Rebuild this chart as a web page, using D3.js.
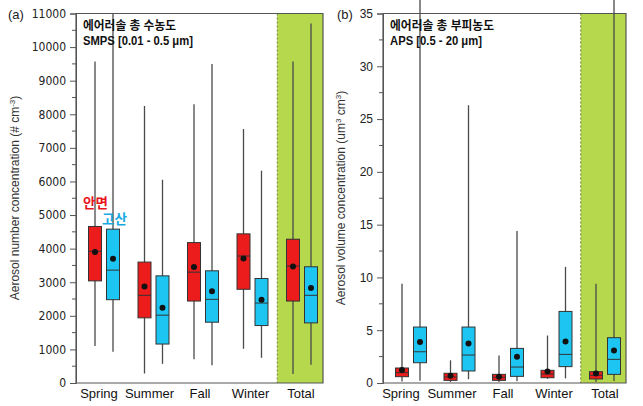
<!DOCTYPE html>
<html lang="ko">
<head>
<meta charset="utf-8">
<title>Aerosol box plots</title>
<script src="https://cdn.jsdelivr.net/npm/d3@7"></script>
<style>
  body { margin: 0; background: #fff; }
  svg text { font-family: "Liberation Sans", Arial, sans-serif; }
  .tick-lab { font-size: 12px; fill: #222; }
  .season { font-size: 13px; fill: #111; }
  .ytitle { font-size: 12px; fill: #333; }
  .ko { font-family: "Noto Sans CJK KR", sans-serif; font-weight: bold; }
</style>
</head>
<body>
<script>
var seasons = ["Spring", "Summer", "Fall", "Winter", "Total"];

// (a) number concentration, SMPS
var anA_min  = [1100, 280, 710, 1020, 270];
var anA_q1   = [3040, 1940, 2440, 2790, 2440];
var anA_med  = [3920, 2610, 3300, 3780, 3480];
var anA_q3   = [4660, 3600, 4180, 4440, 4280];
var anA_max  = [9570, 8250, 8300, 7560, 9570];
var anA_mean = [3900, 2870, 3450, 3710, 3470];

var goA_min  = [930, 570, 530, 750, 540];
var goA_q1   = [2480, 1160, 1810, 1710, 1790];
var goA_med  = [3360, 2020, 2490, 2380, 2610];
var goA_q3   = [4580, 3190, 3340, 3110, 3460];
var goA_max  = [11000, 6050, 9500, 6320, 10700];
var goA_mean = [3700, 2240, 2730, 2480, 2830];

// (b) volume concentration, APS
var anB_min  = [0.15, 0.1, 0.1, 0.4, 0.1];
var anB_q1   = [0.6, 0.25, 0.25, 0.5, 0.38];
var anB_med  = [0.98, 0.57, 0.54, 0.85, 0.73];
var anB_q3   = [1.42, 0.92, 0.82, 1.2, 1.07];
var anB_max  = [9.4, 2.15, 2.6, 4.5, 9.4];
var anB_mean = [1.23, 0.69, 0.6, 1.1, 0.91];

var goB_min  = [0.22, 0.35, 0.16, 0.44, 0.2];
var goB_q1   = [1.92, 1.14, 0.63, 1.55, 0.82];
var goB_med  = [2.96, 2.65, 1.51, 2.71, 2.24];
var goB_q3   = [5.3, 5.3, 3.28, 6.78, 4.29];
var goB_max  = [36.3, 26.3, 14.4, 11.0, 36.3];
var goB_mean = [3.88, 3.75, 2.49, 3.94, 3.09];

var ticksA = [0,1000,2000,3000,4000,5000,6000,7000,8000,9000,10000,11000];
var ticksB = [0,5,10,15,20,25,30,35];

var red = "#ec1c1c", blue = "#1dc6f2", green = "#b5d84c";

var svg = d3.select("body").append("svg")
  .attr("width", 643).attr("height", 406);

function pack(mn, q1, md, q3, mx, mean) {
  return seasons.map(function(s, i) {
    return {s: s, min: mn[i], q1: q1[i], med: md[i], q3: q3[i], max: mx[i], mean: mean[i]};
  });
}

function panel(o) {
  var y = d3.scaleLinear().domain([0, o.ymax]).range([383, 13.5]);
  var x = d3.scalePoint().domain(seasons).range(o.xr);
  var xl = d3.scalePoint().domain(seasons).range(o.lr);
  var g = svg.append("g");
  var sep = (x("Winter") + x("Total")) / 2;

  g.append("rect").attr("x", sep).attr("y", 13.5)
    .attr("width", o.right - sep).attr("height", 383 - 13.5).attr("fill", green);
  g.append("line").attr("x1", sep).attr("x2", sep).attr("y1", 13.5).attr("y2", 383)
    .attr("stroke", "#6d7d2c").attr("stroke-dasharray", "2,2");

  // frame
  g.append("path")
    .attr("d", "M" + o.left + ",13.5H" + o.right + "V383H" + o.left + "Z")
    .attr("fill", "none").attr("stroke", "#555").attr("stroke-width", 1.2);

  // axis with minor ticks
  var ax = d3.axisLeft(y).tickValues(o.ticks).tickSize(6).tickPadding(4)
    .tickFormat(d3.format("d"));
  var axg = g.append("g").attr("transform", "translate(" + o.left + ",0)").call(ax);
  axg.select(".domain").attr("stroke", "#555");
  axg.selectAll(".tick line").attr("stroke", "#555");
  axg.selectAll(".tick text").attr("class", "tick-lab").attr("font-family", null)
    .attr("font-size", null).style("font-family", o.tickFont);
  var minors = o.ticks.slice(0, -1).map(function(t) { return t + o.ticks[1] / 2; });
  g.selectAll(".minor").data(minors).enter().append("line")
    .attr("x1", o.left - 4).attr("x2", o.left)
    .attr("y1", function(d) { return y(d); }).attr("y2", function(d) { return y(d); })
    .attr("stroke", "#555");

  o.series.forEach(function(ser) {
    var sg = g.append("g");
    var data = ser.data;
    sg.selectAll(".wh").data(data).enter().append("line")
      .attr("x1", function(d) { return x(d.s) + ser.dx; })
      .attr("x2", function(d) { return x(d.s) + ser.dx; })
      .attr("y1", function(d) { return y(d.min); })
      .attr("y2", function(d) { return y(d.max); })
      .attr("stroke", "#4a4a4a").attr("stroke-width", 1.3);
    sg.selectAll(".bx").data(data).enter().append("rect")
      .attr("x", function(d) { return x(d.s) + ser.dx - 6.5; })
      .attr("width", 13)
      .attr("y", function(d) { return y(d.q3); })
      .attr("height", function(d) { return y(d.q1) - y(d.q3); })
      .attr("fill", ser.color).attr("stroke", "#333").attr("stroke-width", 1);
    sg.selectAll(".md").data(data).enter().append("line")
      .attr("x1", function(d) { return x(d.s) + ser.dx - 6.5; })
      .attr("x2", function(d) { return x(d.s) + ser.dx + 6.5; })
      .attr("y1", function(d) { return y(d.med); })
      .attr("y2", function(d) { return y(d.med); })
      .attr("stroke", "#333").attr("stroke-width", 1);
    sg.selectAll(".mn").data(data).enter().append("circle")
      .attr("cx", function(d) { return x(d.s) + ser.dx; })
      .attr("cy", function(d) { return y(d.mean); })
      .attr("r", 3).attr("fill", "#111");
  });

  g.selectAll(".season").data(seasons).enter().append("text")
    .attr("class", "season").attr("text-anchor", "middle")
    .attr("x", function(d) { return xl(d); }).attr("y", 398).text(function(d) { return d; });

  g.append("text").attr("x", o.tagX).attr("y", 19).attr("font-size", 13)
    .attr("fill", "#222").text(o.tag);

  var t = g.append("text").attr("class", "ytitle").attr("text-anchor", "middle")
    .attr("transform", "translate(" + o.ytX + ",198) rotate(-90)");
  t.append("tspan").text(o.ytitle);
  t.append("tspan").attr("dy", -4).attr("font-size", 8).text(o.sup1 || "");
  if (o.mid) {
    t.append("tspan").attr("dy", 4).text(o.mid);
    t.append("tspan").attr("dy", -4).attr("font-size", 8).text(o.sup2);
  }
  t.append("tspan").attr("dy", 4).text(")");

  g.append("text").attr("class", "ko").attr("x", o.left + 7).attr("y", 30)
    .attr("font-size", 12).attr("fill", "#111")
    .attr("textLength", o.k1w).attr("lengthAdjust", "spacingAndGlyphs").text(o.k1);
  g.append("text").attr("x", o.left + 7).attr("y", 45).attr("font-weight", "bold")
    .attr("font-size", 12).attr("fill", "#111")
    .attr("textLength", o.k2w).attr("lengthAdjust", "spacingAndGlyphs").text(o.k2);
  return g;
}

panel({
  left: 76, right: 323, ymax: 11000, xr: [104, 302], lr: [99, 301], ticks: ticksA,
  tickFont: "'Liberation Sans Narrow', 'DejaVu Sans Condensed', sans-serif",
  tag: "(a)", tagX: 8, ytX: 19,
  ytitle: "Aerosol number concentration (# cm", sup1: "-3",
  k1: "에어러솔 총 수농도", k1w: 93, k2: "SMPS [0.01 - 0.5 μm]", k2w: 110,
  series: [
    {color: red, dx: -9, data: pack(anA_min, anA_q1, anA_med, anA_q3, anA_max, anA_mean)},
    {color: blue, dx: 9, data: pack(goA_min, goA_q1, goA_med, goA_q3, goA_max, goA_mean)}
  ]
});

panel({
  left: 383, right: 626, ymax: 35, xr: [411, 605], lr: [401, 605], ticks: ticksB,
  tickFont: "'Liberation Sans', sans-serif",
  tag: "(b)", tagX: 337, ytX: 345,
  ytitle: "Aerosol volume concentration (um", sup1: "3", mid: " cm", sup2: "3",
  k1: "에어러솔 총 부피농도", k1w: 104, k2: "APS [0.5 - 20 μm]", k2w: 92,
  series: [
    {color: red, dx: -9, data: pack(anB_min, anB_q1, anB_med, anB_q3, anB_max, anB_mean)},
    {color: blue, dx: 9, data: pack(goB_min, goB_q1, goB_med, goB_q3, goB_max, goB_mean)}
  ]
});

svg.append("text").attr("class", "ko").attr("x", 83).attr("y", 208)
  .attr("font-size", 13.5).attr("fill", "#e8141b").text("안면");
svg.append("text").attr("class", "ko").attr("x", 102).attr("y", 224)
  .attr("font-size", 13.5).attr("fill", "#1aa8e2").text("고산");
</script>
</body>
</html>
